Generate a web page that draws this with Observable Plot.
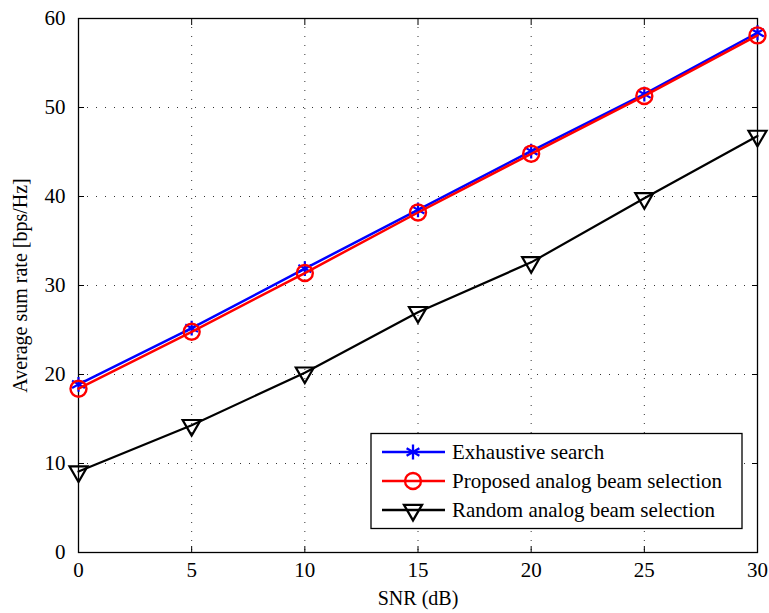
<!DOCTYPE html>
<html>
<head>
<meta charset="utf-8">
<script src="https://cdn.jsdelivr.net/npm/d3@7"></script>
<script src="https://cdn.jsdelivr.net/npm/@observablehq/plot@0.6"></script>
<style>
  html, body { margin: 0; padding: 0; background: #fff; }
  #chart { position: relative; width: 769px; height: 613px; }
</style>
</head>
<body>
<div id="chart"></div>
<script>
const snr = [0, 5, 10, 15, 20, 25, 30];
const exhaustive = [18.9, 25.2, 31.9, 38.5, 45.1, 51.5, 58.4];
const proposed = [18.4, 24.8, 31.4, 38.2, 44.8, 51.3, 58.1];
const randomSel = [9.1, 14.3, 20.2, 27.0, 32.6, 39.8, 46.8];
const xTicks = [0, 5, 10, 15, 20, 25, 30];
const yTicks = [0, 10, 20, 30, 40, 50, 60];
const seriesNames = ["Exhaustive search", "Proposed analog beam selection", "Random analog beam selection"];
const xLabel = "SNR (dB)";
const yLabel = "Average sum rate [bps/Hz]";

const mk = (vals) => snr.map((x, i) => ({x, y: vals[i]}));
const dEx = mk(exhaustive), dPr = mk(proposed), dRa = mk(randomSel);

const grid = {stroke: "#333", strokeOpacity: 1, strokeWidth: 1, strokeDasharray: "1,8"};

const plot = Plot.plot({
  width: 769,
  height: 613,
  marginLeft: 78,
  marginRight: 12,
  marginTop: 18,
  marginBottom: 61,
  style: {fontFamily: "'Liberation Serif', 'Times New Roman', serif", fontSize: "20px", background: "#fff", color: "#000"},
  x: {domain: [0, 30]},
  y: {domain: [0, 60]},
  marks: [
    Plot.gridX(xTicks, grid),
    Plot.gridY(yTicks, grid),
    Plot.axisX(xTicks, {anchor: "bottom", tickSize: -6, tickPadding: 16, label: null, tickFormat: d => d, fontSize: 21}),
    Plot.axisX(xTicks, {anchor: "top", tickSize: -6, label: null, tickFormat: () => ""}),
    Plot.axisY(yTicks, {anchor: "left", tickSize: -6, tickPadding: 19, label: null, tickFormat: d => d, fontSize: 21}),
    Plot.axisY(yTicks, {anchor: "right", tickSize: -6, label: null, tickFormat: () => ""}),
    Plot.frame({stroke: "#000", strokeWidth: 1.3}),
    Plot.line(dEx, {x: "x", y: "y", stroke: "#0000ff", strokeWidth: 2.5}),
    Plot.dot(dEx, {x: "x", y: "y", symbol: "asterisk", r: 7, stroke: "#0000ff", strokeWidth: 2.2}),
    Plot.line(dPr, {x: "x", y: "y", stroke: "#ff0000", strokeWidth: 2.5}),
    Plot.dot(dPr, {x: "x", y: "y", symbol: "circle", r: 8, stroke: "#ff0000", strokeWidth: 2.4, fill: "none"}),
    Plot.line(dRa, {x: "x", y: "y", stroke: "#000", strokeWidth: 2.2}),
    Plot.dot(dRa, {x: "x", y: "y", symbol: "triangle", r: 6.7, rotate: 180, stroke: "#000", strokeWidth: 2.2, fill: "none"}),
    Plot.text([xLabel], {frameAnchor: "bottom", dy: 52, fontSize: 20, textAnchor: "middle"}),
    Plot.text([yLabel], {frameAnchor: "left", rotate: -90, dx: -58, fontSize: 20, textAnchor: "middle"})
  ]
});

document.getElementById("chart").appendChild(plot);

// Legend (drawn into the same SVG)
const svg = d3.select(plot);
const lg = svg.append("g")
  .attr("font-family", "'Liberation Serif', 'Times New Roman', serif")
  .attr("font-size", 21)
  .attr("text-anchor", "start");
lg.append("rect").attr("x", 371).attr("y", 433.5).attr("width", 371).attr("height", 95)
  .attr("fill", "#fff").attr("stroke", "#000").attr("stroke-width", 1.3);
const rows = [
  {name: seriesNames[0], color: "#0000ff", sym: d3.symbolAsterisk, size: Math.PI * 49, rot: 0, y: 452},
  {name: seriesNames[1], color: "#ff0000", sym: d3.symbolCircle, size: Math.PI * 64, rot: 0, y: 481},
  {name: seriesNames[2], color: "#000", sym: d3.symbolTriangle, size: Math.PI * 6.7 * 6.7, rot: 180, y: 510}
];
rows.forEach(r => {
  lg.append("line").attr("x1", 382).attr("x2", 445).attr("y1", r.y).attr("y2", r.y)
    .attr("stroke", r.color).attr("stroke-width", 2.5);
  lg.append("path").attr("d", d3.symbol(r.sym, r.size)())
    .attr("transform", `translate(413,${r.y}) rotate(${r.rot})`)
    .attr("fill", "none").attr("stroke", r.color).attr("stroke-width", 2.3);
  lg.append("text").attr("x", 452).attr("y", r.y).attr("dy", "0.35em").attr("text-anchor", "start").text(r.name);
});
</script>
</body>
</html>
